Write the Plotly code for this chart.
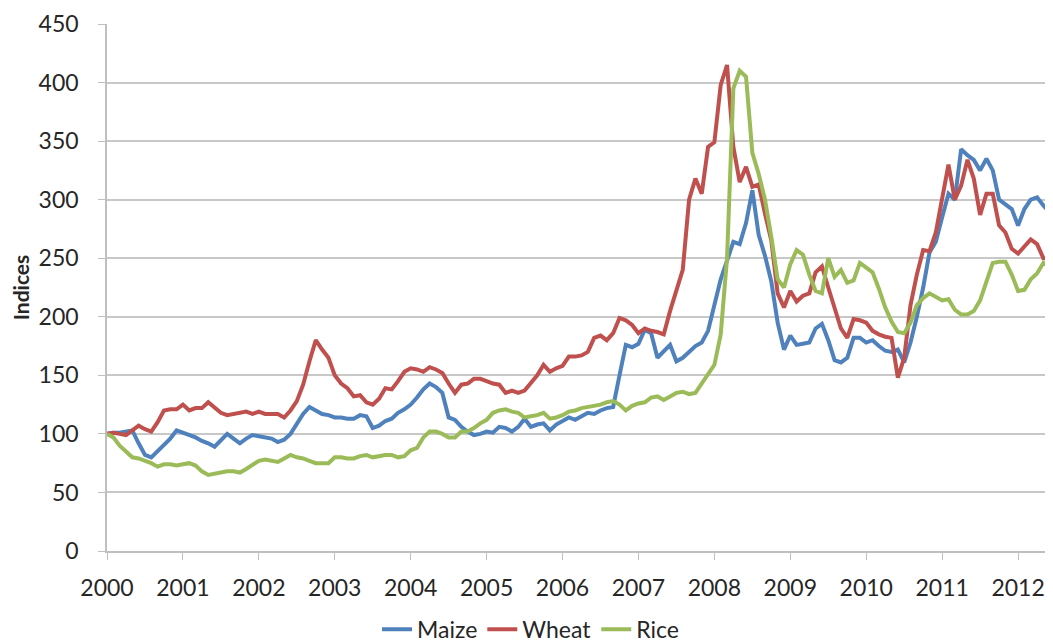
import plotly.graph_objects as go

start_year = 2000
maize = [
    100, 101, 101, 102, 103, 92, 82, 80, 85, 90, 96, 103,
    101, 99, 97, 94, 92, 89, 95, 100, 96, 92, 96, 99,
    98, 97, 96, 93, 95, 100, 108, 117, 123, 120, 117, 116,
    114, 114, 113, 113, 116, 115, 105, 107, 111, 113, 118, 121,
    125, 131, 138, 143, 140, 135, 114, 112, 106, 102, 99, 100,
    102, 101, 106, 105, 102, 106, 113, 106, 108, 109, 103, 108,
    111, 114, 112, 115, 118, 117, 120, 122, 123, 150, 176, 174,
    177, 189, 186, 165, 170, 176, 162, 165, 170, 175, 178, 188,
    210, 232, 248, 264, 262, 280, 308, 270, 252, 230, 195, 172,
    184, 176, 177, 178, 190, 194, 180, 163, 161, 165, 182, 182,
    178, 180, 175, 171, 170, 172, 161, 178, 200, 225, 255, 264,
    285, 305, 300, 343, 338, 334, 325, 335, 325, 300, 296, 292,
    278, 292, 300, 302, 295, 289, 380,
]
wheat = [
    100, 101, 100, 99, 103, 107, 104, 102, 110, 120, 121, 121,
    125, 120, 122, 122, 127, 123, 118, 116, 117, 118, 119, 117,
    119, 117, 117, 117, 114, 120, 128, 142, 162, 180, 172, 165,
    150, 143, 139, 132, 133, 127, 125, 130, 139, 138, 145, 153,
    156, 155, 153, 157, 155, 152, 143, 135, 142, 143, 147, 147,
    145, 143, 142, 135, 137, 135, 137, 143, 150, 159, 153, 156,
    158, 166, 166, 167, 170, 182, 184, 180, 186, 199, 197, 193,
    186, 190, 188, 187, 185, 205, 222, 240, 300, 318, 305, 345,
    349, 398, 415, 345, 315, 328, 311, 313, 288, 265, 220, 208,
    222, 213, 218, 220, 238, 243, 225, 206, 190, 182, 198, 197,
    195, 188, 185, 183, 182, 148, 165, 210, 236, 257, 256, 272,
    300, 330, 300, 312, 334, 318, 287, 305, 305, 278, 272, 258,
    254, 260, 266, 262, 250, 250, 305,
]
rice = [
    100, 97, 90, 85, 80, 79, 77, 75, 72, 74, 74, 73,
    74, 75, 73, 68, 65, 66, 67, 68, 68, 67, 70, 74,
    77, 78, 77, 76, 79, 82, 80, 79, 77, 75, 75, 75,
    80, 80, 79, 79, 81, 82, 80, 81, 82, 82, 80, 81,
    86, 88, 97, 102, 102, 100, 97, 97, 102, 102, 105, 109,
    112, 118, 120, 121, 119, 118, 114, 115, 116, 118, 113, 114,
    116, 119, 120, 122, 123, 124, 125, 127, 128, 125, 120, 124,
    126, 127, 131, 132, 129, 132, 135, 136, 134, 135, 143, 150,
    159, 185, 250, 395, 410, 405, 340, 322, 300, 268, 232, 225,
    245, 257, 253, 236, 222, 220, 250, 234, 240, 229, 231, 246,
    242, 238, 224, 208, 196, 187, 186, 195, 210, 216, 220, 217,
    214, 215, 206, 202, 202, 205, 214, 230, 246, 247, 247, 236,
    222, 223, 232, 237, 246, 243, 240,
]
year_ticks = list(range(2000, 2013))
series_names = ["Maize", "Wheat", "Rice"]
series_colors = ["#4F81BD", "#C0504D", "#9BBB59"]

months = [start_year + i / 12 for i in range(len(maize))]

fig = go.Figure()
for name, vals, col in zip(series_names, [maize, wheat, rice], series_colors):
    fig.add_trace(go.Scatter(x=months, y=vals, mode="lines", name=name,
                             line=dict(color=col, width=4)))

font_family = "Lato, 'Open Sans', sans-serif"
text_color = "#262626"
fig.update_layout(
    width=1045, height=634,
    margin=dict(l=99, r=0, t=16, b=91),
    paper_bgcolor="white", plot_bgcolor="white",
    font=dict(family=font_family, size=23, color=text_color),
    showlegend=True,
    legend=dict(orientation="h", xref="container", yref="container",
                x=0.5, y=0.02, xanchor="center", yanchor="middle",
                font=dict(size=23, color=text_color), itemwidth=30,
                tracegroupgap=0),
    xaxis=dict(range=[2000, 2012.46], tickvals=year_ticks,
               ticktext=[str(y) for y in year_ticks],
               showgrid=False, zeroline=False,
               showline=True, linecolor="#BFBFBF", linewidth=1.5,
               ticks="outside", ticklen=7, tickcolor="#BFBFBF",
               ticklabelstandoff=9),
    yaxis=dict(range=[0, 450], dtick=50, tick0=0,
               showgrid=True, gridcolor="#C8C8C8", gridwidth=1.5,
               zeroline=False,
               showline=True, linecolor="#BFBFBF", linewidth=1.5,
               ticks="outside", ticklen=7, tickcolor="#BFBFBF",
               ticklabelstandoff=15,
               title=dict(text="<b>Indices</b>", standoff=6,
                          font=dict(size=21))),
)

fig.write_html("out.html")
